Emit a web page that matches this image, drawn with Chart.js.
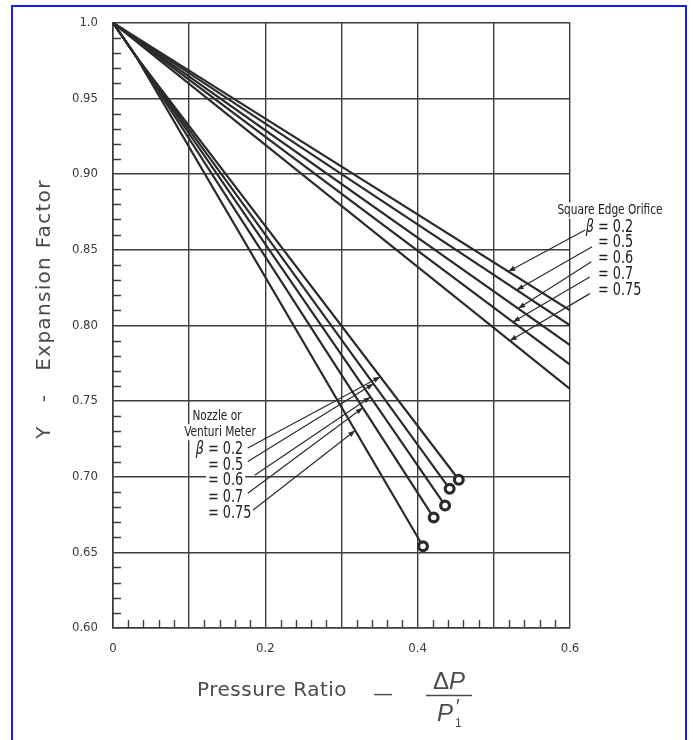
<!DOCTYPE html>
<html>
<head>
<meta charset="utf-8">
<script src="https://cdn.jsdelivr.net/npm/chart.js@4.4.1/dist/chart.umd.min.js"></script>
<style>
  html, body { margin: 0; padding: 0; background: #fff; }
  #wrap { position: relative; width: 693px; height: 740px; overflow: hidden; }
  #wrap canvas { position: absolute; left: 0; top: 0; }
  #frame { position: absolute; left: 11px; top: 5px; width: 672px; height: 780px;
           border: 2px solid #1a1aff; pointer-events: none; }
</style>
</head>
<body>
<div id="wrap">
  <canvas id="chart" width="693" height="740"></canvas>
  <div id="frame"></div>
</div>
<script>
// axis ticks
const xTickValues = [0, 0.2, 0.4, 0.6];
const xTickLabels = ["0", "0.2", "0.4", "0.6"];
const yTickValues = [0.60, 0.65, 0.70, 0.75, 0.80, 0.85, 0.90, 0.95, 1.0];
const yTickLabels = ["0.60", "0.65", "0.70", "0.75", "0.80", "0.85", "0.90", "0.95", "1.0"];

// square edge orifice curves (pressure ratio -> Y)
const orificeBetas = ["0.2", "0.5", "0.6", "0.7", "0.75"];
const orificeX = [0, 0.6];
const orificeY_b02 = [1.0, 0.810];
const orificeY_b05 = [1.0, 0.800];
const orificeY_b06 = [1.0, 0.787];
const orificeY_b07 = [1.0, 0.774];
const orificeY_b075 = [1.0, 0.758];

// nozzle / venturi curves, last point = critical ratio (ring marker)
const nozzleBetas = ["0.2", "0.5", "0.6", "0.7", "0.75"];
const nozzleX_b02 = [0, 0.03, 0.454];
const nozzleY_b02 = [1.0, 0.978, 0.698];
const nozzleX_b05 = [0, 0.03, 0.442];
const nozzleY_b05 = [1.0, 0.978, 0.692];
const nozzleX_b06 = [0, 0.03, 0.436];
const nozzleY_b06 = [1.0, 0.978, 0.681];
const nozzleX_b07 = [0, 0.03, 0.421];
const nozzleY_b07 = [1.0, 0.978, 0.673];
const nozzleX_b075 = [0, 0.03, 0.407];
const nozzleY_b075 = [1.0, 0.978, 0.654];

// where the label leaders touch each curve (x only, y)
const orificeArrowX = [0.519, 0.530, 0.532, 0.525, 0.521];
const nozzleArrowX = [0.351, 0.342, 0.338, 0.328, 0.318];

const orificeYs = [orificeY_b02, orificeY_b05, orificeY_b06, orificeY_b07, orificeY_b075];
const nozzleXs = [nozzleX_b02, nozzleX_b05, nozzleX_b06, nozzleX_b07, nozzleX_b075];
const nozzleYs = [nozzleY_b02, nozzleY_b05, nozzleY_b06, nozzleY_b07, nozzleY_b075];

const ink = "#2b2b2b";
const gridColor = "#3d3d3d";
const narrow = '"Liberation Sans Narrow", "DejaVu Sans Condensed", "Arial Narrow", sans-serif';

const pairs = (xs, ys) => xs.map((x, i) => ({ x, y: ys[i] }));

const datasets = [];
orificeYs.forEach((ys, i) => {
  datasets.push({
    label: "Orifice β=" + orificeBetas[i],
    data: pairs(orificeX, ys),
    borderColor: ink, borderWidth: 2.2, pointRadius: 0, tension: 0
  });
});
nozzleYs.forEach((ys, i) => {
  const n = ys.length;
  datasets.push({
    label: "Nozzle β=" + nozzleBetas[i],
    data: pairs(nozzleXs[i], ys),
    borderColor: ink, borderWidth: 2.2, tension: 0,
    pointRadius: c => c.dataIndex === n - 1 ? 4.4 : 0,
    pointBackgroundColor: "#fff", pointBorderColor: ink, pointBorderWidth: 3.2
  });
});

function curveY(xs, ys, xv) {
  for (let i = 1; i < xs.length; i++) {
    if (xv <= xs[i]) {
      const t = (xv - xs[i - 1]) / (xs[i] - xs[i - 1]);
      return ys[i - 1] + t * (ys[i] - ys[i - 1]);
    }
  }
  return ys[ys.length - 1];
}

// label layout (data units)
const orificeLeaderStart = [[0.620, 0.863], [0.629, 0.852], [0.628, 0.842], [0.626, 0.832], [0.626, 0.821]];
const orificeRowY = [0.8647, 0.8548, 0.8442, 0.8337, 0.8231];
const nozzleLeaderStart = [[0.177, 0.719], [0.177, 0.710], [0.186, 0.701], [0.177, 0.689], [0.184, 0.678]];
const nozzleRowY = [0.7182, 0.7076, 0.6977, 0.6865, 0.6759];

const annot = {
  id: "annot",
  afterDraw(chart) {
    const { ctx, chartArea: a } = chart;
    const sx = chart.scales.x, sy = chart.scales.y;
    const px = v => sx.getPixelForValue(v), py = v => sy.getPixelForValue(v);
    ctx.save();

    // minor ticks
    ctx.strokeStyle = gridColor;
    ctx.lineWidth = 1.4;
    ctx.beginPath();
    for (let k = 61; k < 100; k++) {
      if (k % 5 === 0) continue;
      const yy = Math.round(py(k / 100)) + 0.5;
      ctx.moveTo(a.left, yy); ctx.lineTo(a.left + 8, yy);
    }
    for (let k = 1; k < 30; k++) {
      if (k % 5 === 0) continue;
      const xx = Math.round(px(k * 0.02)) + 0.5;
      ctx.moveTo(xx, a.bottom); ctx.lineTo(xx, a.bottom - 8);
    }
    ctx.stroke();

    // narrow-looking text: squeeze horizontally
    const SQ = 0.84;
    const label = (txt, x, y, font, align) => {
      ctx.save();
      ctx.font = font;
      ctx.textBaseline = "middle";
      ctx.textAlign = "left";
      const w = ctx.measureText(txt).width * SQ;
      const x0 = align === "left" ? x : align === "right" ? x - w : x - w / 2;
      ctx.fillStyle = "#fff";
      ctx.fillRect(x0 - 2, y - 8, w + 4, 16);
      ctx.translate(x0, y);
      ctx.scale(SQ, 1);
      ctx.fillStyle = "#222";
      ctx.fillText(txt, 0, 0);
      ctx.restore();
    };
    const arrow = (x0, y0, x1, y1) => {
      ctx.strokeStyle = ink; ctx.lineWidth = 1.2;
      ctx.beginPath(); ctx.moveTo(x0, y0); ctx.lineTo(x1, y1); ctx.stroke();
      const ang = Math.atan2(y1 - y0, x1 - x0);
      const L = 7, W = 2.6;
      ctx.fillStyle = ink;
      ctx.beginPath();
      ctx.moveTo(x1, y1);
      ctx.lineTo(x1 - L * Math.cos(ang) + W * Math.sin(ang), y1 - L * Math.sin(ang) - W * Math.cos(ang));
      ctx.lineTo(x1 - L * Math.cos(ang) - W * Math.sin(ang), y1 - L * Math.sin(ang) + W * Math.cos(ang));
      ctx.closePath(); ctx.fill();
    };

    // square edge orifice labels
    label("Square Edge Orifice", px(0.6525), py(0.8759), "14px " + narrow, "center");
    const eqX = px(0.6367);
    orificeBetas.forEach((b, i) => {
      label("= " + b, eqX, py(orificeRowY[i]), "17px " + narrow, "left");
      if (i === 0) label("β", eqX - 4, py(orificeRowY[i]), "italic 17px " + narrow, "right");
      const s = orificeLeaderStart[i];
      const tx = orificeArrowX[i];
      arrow(px(s[0]), py(s[1]), px(tx), py(curveY(orificeX, orificeYs[i], tx)));
    });

    // nozzle labels
    label("Nozzle or", px(0.1365), py(0.7399), "14px " + narrow, "center");
    label("Venturi Meter", px(0.1405), py(0.7294), "14px " + narrow, "center");
    const eqN = px(0.1247);
    nozzleBetas.forEach((b, i) => {
      label("= " + b, eqN, py(nozzleRowY[i]), "17px " + narrow, "left");
      if (i === 0) label("β", eqN - 4, py(nozzleRowY[i]), "italic 17px " + narrow, "right");
      const s = nozzleLeaderStart[i];
      const tx = nozzleArrowX[i];
      arrow(px(s[0]), py(s[1]), px(tx), py(curveY(nozzleXs[i], nozzleYs[i], tx)));
    });

    // y axis title
    ctx.fillStyle = "#4a4a4a";
    ctx.save();
    ctx.translate(45, 309);
    ctx.rotate(-Math.PI / 2);
    ctx.font = '20px "DejaVu Sans", sans-serif';
    ctx.letterSpacing = "1.3px";
    ctx.textAlign = "center";
    ctx.textBaseline = "middle";
    ctx.fillText("Y   -   Expansion Factor", 0, 0);
    ctx.restore();

    // x axis title
    ctx.font = '20px "DejaVu Sans", sans-serif';
    ctx.letterSpacing = "0.5px";
    ctx.textAlign = "left";
    ctx.textBaseline = "alphabetic";
    ctx.fillText("Pressure Ratio", 197, 696);
    ctx.letterSpacing = "0px";
    ctx.fillText("—", 373, 700);
    const cx = 449;
    ctx.font = '24px "Liberation Sans", sans-serif';
    const wD = ctx.measureText("Δ").width;
    ctx.font = 'italic 24px "Liberation Sans", sans-serif';
    const wP = ctx.measureText("P").width;
    const x0 = cx - (wD + wP) / 2;
    ctx.font = '24px "Liberation Sans", sans-serif';
    ctx.fillText("Δ", x0, 689);
    ctx.font = 'italic 24px "Liberation Sans", sans-serif';
    ctx.fillText("P", x0 + wD, 689);
    ctx.strokeStyle = "#4a4a4a"; ctx.lineWidth = 1.4;
    ctx.beginPath(); ctx.moveTo(426, 695.5); ctx.lineTo(472, 695.5); ctx.stroke();
    ctx.fillText("P", 437, 721);
    ctx.font = 'italic 20px "Liberation Sans", sans-serif';
    ctx.fillText("′", 455, 713);
    ctx.font = '12px "Liberation Sans", sans-serif';
    ctx.fillText("1", 455, 727);

    ctx.restore();
  }
};

const labelFor = (vals, labels) => v => {
  const i = vals.findIndex(t => Math.abs(t - v) < 1e-6);
  return i >= 0 ? labels[i] : "";
};

new Chart(document.getElementById("chart"), {
  type: "line",
  data: { datasets },
  options: {
    responsive: false,
    animation: false,
    devicePixelRatio: 1,
    layout: { padding: { top: 22, right: 123, bottom: 0, left: 0 } },
    plugins: { legend: { display: false }, tooltip: { enabled: false } },
    scales: {
      x: {
        type: "linear", min: 0, max: 0.6,
        afterFit: s => { s.height = 112; },
        ticks: {
          stepSize: 0.1, autoSkip: false, maxRotation: 0, padding: 13,
          color: "#3a3a3a", font: { family: narrow, size: 13 },
          callback: labelFor(xTickValues, xTickLabels)
        },
        grid: { color: gridColor, lineWidth: 1.4, drawTicks: false },
        border: { color: gridColor, width: 1.6 }
      },
      y: {
        type: "linear", min: 0.6, max: 1.0,
        afterFit: s => { s.width = 113; },
        ticks: {
          stepSize: 0.05, autoSkip: false, padding: 15,
          color: "#3a3a3a", font: { family: narrow, size: 13 },
          callback: labelFor(yTickValues, yTickLabels)
        },
        grid: { color: gridColor, lineWidth: 1.4, drawTicks: false },
        border: { color: gridColor, width: 1.6 }
      }
    }
  },
  plugins: [annot]
});
</script>
</body>
</html>
